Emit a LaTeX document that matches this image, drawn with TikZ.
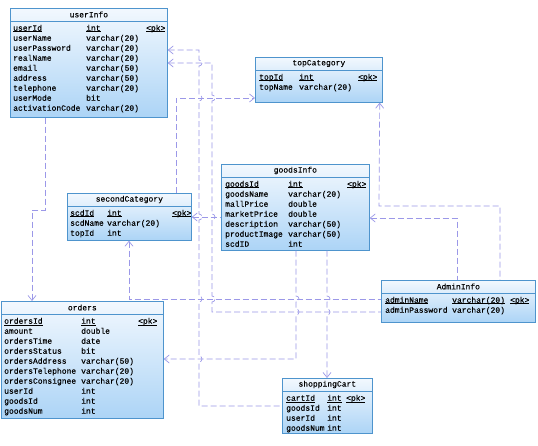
\documentclass[tikz,border=0pt]{standalone}
\usepackage{fontspec}
\setmainfont{Liberation Mono}[FakeBold=0.25]
\usetikzlibrary{arrows.meta}
\definecolor{bordc}{RGB}{78,148,205}
\definecolor{filltop}{RGB}{242,248,254}
\definecolor{fillbot}{RGB}{172,212,246}
\definecolor{connc}{RGB}{155,152,232}
\newsavebox\pkbox
\newcommand\pku[1]{\leavevmode\sbox\pkbox{#1}\rlap{\rule[-1.3pt]{\wd\pkbox}{0.5pt}}\usebox\pkbox}
\begin{document}
\begin{tikzpicture}[x=1pt,y=-1pt,
  tbl/.style={draw=bordc, line width=0.7pt, top color=filltop, bottom color=fillbot, inner sep=0pt, anchor=north west},
  ttl/.style={inner sep=0pt, font=\fontsize{8}{10}\selectfont},
  body/.style={inner sep=0pt, anchor=north west, font=\fontsize{8}{10}\selectfont},
  divl/.style={draw=bordc, line width=0.6pt},
  conn/.style={draw=connc, line width=0.7pt, dash pattern=on 6pt off 3pt},
  >={Straight Barb[length=5pt,width=8pt]}]
\useasboundingbox[fill=white] (0,0) rectangle (538,446);

% ---------- tables ----------
\node[tbl, minimum width=157pt, minimum height=109pt] (userInfo) at (10,8) {};
\node[tbl, minimum width=127pt, minimum height=45pt] (topCategory) at (255,57) {};
\node[tbl, minimum width=148pt, minimum height=86pt] (goodsInfo) at (221,164) {};
\node[tbl, minimum width=124pt, minimum height=47pt] (secondCategory) at (67,193) {};
\node[tbl, minimum width=162pt, minimum height=117pt] (orders) at (1,301) {};
\node[tbl, minimum width=154pt, minimum height=42pt] (AdminInfo) at (381,280) {};
\node[tbl, minimum width=90pt, minimum height=55pt] (shoppingCart) at (282,378) {};

\foreach \t in {userInfo,topCategory,goodsInfo,secondCategory,orders,AdminInfo,shoppingCart}{
  \draw[divl] ([yshift=-13pt]\t.north west) -- ([yshift=-13pt]\t.north east);
}

\node[ttl] (userInfo-t) at ([yshift=-6.5pt]userInfo.north) {userInfo};
\node[body] (userInfo-b) at ([xshift=3pt,yshift=-15.5pt]userInfo.north west) {%
\begin{tabular}{@{}p{73pt}@{}p{60pt}@{}l@{}}
\pku{userId} & \pku{int} & \pku{<pk>}\\
userName & varchar(20) & \\
userPassword & varchar(20) & \\
realName & varchar(20) & \\
email & varchar(50) & \\
address & varchar(50) & \\
telephone & varchar(20) & \\
userMode & bit & \\
activationCode & varchar(20) &
\end{tabular}};

\node[ttl] (topCategory-t) at ([yshift=-6.5pt]topCategory.north) {topCategory};
\node[body] (topCategory-b) at ([xshift=4pt,yshift=-15.5pt]topCategory.north west) {%
\begin{tabular}{@{}p{40pt}@{}p{59pt}@{}l@{}}
\pku{topId} & \pku{int} & \pku{<pk>}\\
topName & varchar(20) &
\end{tabular}};

\node[ttl] (goodsInfo-t) at ([yshift=-6.5pt]goodsInfo.north) {goodsInfo};
\node[body] (goodsInfo-b) at ([xshift=4pt,yshift=-15.5pt]goodsInfo.north west) {%
\begin{tabular}{@{}p{63pt}@{}p{59pt}@{}l@{}}
\pku{goodsId} & \pku{int} & \pku{<pk>}\\
goodsName & varchar(20) & \\
mallPrice & double & \\
marketPrice & double & \\
description & varchar(50) & \\
productImage & varchar(50) & \\
scdID & int &
\end{tabular}};

\node[ttl] (secondCategory-t) at ([yshift=-6.5pt]secondCategory.north) {secondCategory};
\node[body] (secondCategory-b) at ([xshift=3pt,yshift=-15.5pt]secondCategory.north west) {%
\begin{tabular}{@{}p{37pt}@{}p{65pt}@{}l@{}}
\pku{scdId} & \pku{int} & \pku{<pk>}\\
scdName & varchar(20) & \\
topId & int &
\end{tabular}};

\node[ttl] (orders-t) at ([yshift=-6.5pt]orders.north) {orders};
\node[body] (orders-b) at ([xshift=3pt,yshift=-15.5pt]orders.north west) {%
\begin{tabular}{@{}p{77pt}@{}p{57pt}@{}l@{}}
\pku{ordersId} & \pku{int} & \pku{<pk>}\\
amount & double & \\
ordersTime & date & \\
ordersStatus & bit & \\
ordersAddress & varchar(50) & \\
ordersTelephone & varchar(20) & \\
ordersConsignee & varchar(20) & \\
userId & int & \\
goodsId & int & \\
goodsNum & int &
\end{tabular}};

\node[ttl] (AdminInfo-t) at ([yshift=-6.5pt]AdminInfo.north) {AdminInfo};
\node[body] (AdminInfo-b) at ([xshift=4pt,yshift=-15.5pt]AdminInfo.north west) {%
\begin{tabular}{@{}p{67pt}@{}p{58pt}@{}l@{}}
\pku{adminName} & \pku{varchar(20)} & \pku{<pk>}\\
adminPassword & varchar(20) &
\end{tabular}};

\node[ttl] (shoppingCart-t) at ([yshift=-6.5pt]shoppingCart.north) {shoppingCart};
\node[body] (shoppingCart-b) at ([xshift=4pt,yshift=-15.5pt]shoppingCart.north west) {%
\begin{tabular}{@{}p{41pt}@{}p{19pt}@{}l@{}}
\pku{cartId} & \pku{int} & \pku{<pk>}\\
goodsId & int & \\
userId & int & \\
goodsNum & int &
\end{tabular}};

% ---------- connectors ----------
% userInfo -> orders
\draw[conn,->] ([xshift=35pt]userInfo.south west) -- (45,210) -- (32,210) -- ([xshift=31pt]orders.north west);
% shoppingCart -> userInfo (x=199)
\draw[conn,<-] ([yshift=-42pt]userInfo.north east) -- (199,50)
  -- (199,60) arc[start angle=90,end angle=-90,radius=3pt]
  -- (199,95) arc[start angle=90,end angle=-90,radius=3pt]
  -- (199,214) arc[start angle=90,end angle=-90,radius=3pt]
  -- (199,296) arc[start angle=90,end angle=-90,radius=3pt]
  -- (199,356) arc[start angle=90,end angle=-90,radius=3pt]
  -- (199,406) -- ([yshift=-28pt]shoppingCart.north west);
% AdminInfo -> userInfo (x=212)
\draw[conn,<-] ([yshift=-55pt]userInfo.north east) -- (212,63)
  -- (212,95) arc[start angle=90,end angle=-90,radius=3pt]
  -- (212,214) arc[start angle=90,end angle=-90,radius=3pt]
  -- (212,296) arc[start angle=90,end angle=-90,radius=3pt]
  -- (212,312) -- ([yshift=-32pt]AdminInfo.north west);
% secondCategory -> topCategory
\draw[conn,->] ([xshift=109pt]secondCategory.north west) -- (176,98) -- ([yshift=-41pt]topCategory.north west);
% AdminInfo -> topCategory
\draw[conn,<-] ([xshift=-3pt]topCategory.south east) -- (379,206) -- (500,206) -- ([xshift=119pt]AdminInfo.north west);
% AdminInfo -> goodsInfo
\draw[conn,<-] ([yshift=-54pt]goodsInfo.north east) -- (457,218) -- ([xshift=76pt]AdminInfo.north west);
% goodsInfo -> secondCategory
\draw[conn,<-] ([yshift=-24pt]secondCategory.north east) -- ([yshift=-53pt]goodsInfo.north west);
% AdminInfo -> secondCategory (y=299)
\draw[conn,<-] ([xshift=62pt]secondCategory.south west) -- (129,299) -- ([yshift=-19pt]AdminInfo.north west);
% goodsInfo -> shoppingCart
\draw[conn,->] ([xshift=106pt]goodsInfo.south west)
  -- (327,296) arc[start angle=90,end angle=-90,radius=3pt]
  -- (327,309) arc[start angle=90,end angle=-90,radius=3pt]
  -- ([xshift=45pt]shoppingCart.north west);
% goodsInfo -> orders
\draw[conn,->] ([xshift=75pt]goodsInfo.south west)
  -- (296,296) arc[start angle=90,end angle=-90,radius=3pt]
  -- (296,309) arc[start angle=90,end angle=-90,radius=3pt]
  -- (296,359) -- ([yshift=-58pt]orders.north east);
\end{tikzpicture}
\end{document}
